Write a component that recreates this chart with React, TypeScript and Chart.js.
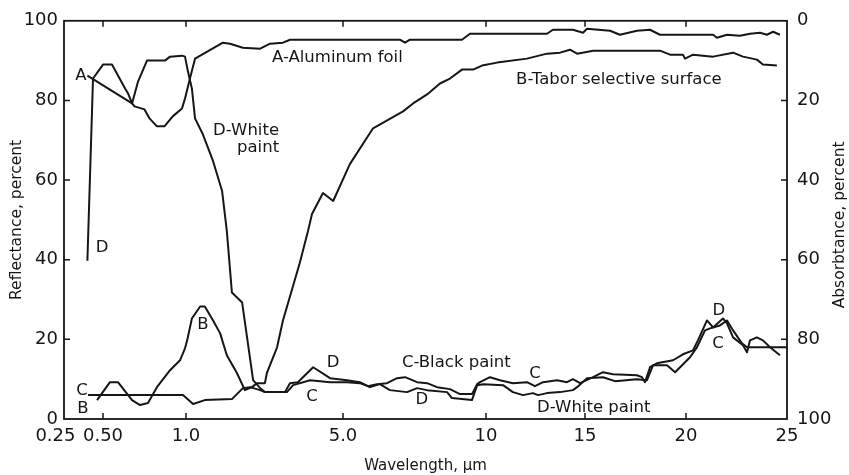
import React, { useEffect, useRef } from "react";
import { Chart, registerables } from "chart.js";

Chart.register(...registerables);

// ---- Axis definition (wavelength axis is piecewise linear between ticks) ----
const TICK_WAVELENGTHS = [0.25, 0.5, 1.0, 5.0, 10, 15, 20, 25];
const TICK_LABELS = ["0.25", "0.50", "1.0", "5.0", "10", "15", "20", "25"];
const SEGMENT_WEIGHTS = [39, 83, 157, 143, 99, 101, 101];
const REFLECTANCE_TICKS = [0, 20, 40, 60, 80, 100];
const ABSORBTANCE_TICKS = [0, 20, 40, 60, 80, 100];

// ---- Series: A - Aluminum foil ----
const A_WAVELENGTH = [0.40, 0.675, 0.69, 0.75, 0.78, 0.825, 0.87, 0.92, 0.976, 0.994, 1.10, 1.23, 1.54, 1.94, 2.12, 2.45, 2.89, 3.14, 3.47, 3.65, 4.24, 6.99, 7.17, 7.34, 9.16, 9.44, 13.08, 13.38, 14.39, 14.9, 15.1, 16.24, 16.73, 17.57, 18.22, 18.71, 21.34, 21.53, 22.03, 22.67, 23.17, 23.66, 24.01, 24.31, 24.65];
const A_REFLECTANCE = [86.25, 79.25, 78.5, 77.75, 75.5, 73.5, 73.5, 76, 78, 80.5, 85.5, 90.5, 92.25, 94.5, 94.25, 93.25, 93, 94.25, 94.5, 95.25, 95.25, 95.25, 94.5, 95.25, 95.25, 96.75, 96.75, 97.75, 97.75, 97, 98, 97.5, 96.5, 97.5, 97.75, 96.5, 96.5, 95.75, 96.5, 96.25, 96.75, 97, 96.5, 97.25, 96.5];

// ---- Series: B - Tabor selective surface ----
const B_WAVELENGTH = [0.462, 0.542, 0.59, 0.675, 0.723, 0.771, 0.825, 0.904, 0.964, 0.994, 1.03, 1.15, 1.36, 1.48, 1.69, 1.87, 2.04, 2.30, 2.50, 2.68, 2.81, 3.01, 3.06, 3.32, 3.47, 3.90, 4.11, 4.21, 4.49, 4.75, 5.24, 6.05, 7.10, 7.45, 7.94, 8.39, 8.74, 9.16, 9.55, 9.86, 10.56, 12.07, 13.08, 13.74, 14.24, 14.6, 15.4, 18.71, 19.21, 19.85, 19.95, 20.35, 21.34, 22.33, 22.82, 23.51, 23.81, 24.5];
const B_REFLECTANCE = [4.75, 9.25, 9.25, 4.75, 3.5, 4, 8, 12.25, 14.75, 17.75, 19.75, 25.25, 28.25, 28.25, 24.75, 21.5, 16, 11.5, 7.25, 8, 9, 9, 11.5, 18, 24.75, 39.25, 47.25, 51.5, 56.75, 54.75, 64, 73, 77.25, 79.25, 81.5, 84.25, 85.5, 87.75, 87.75, 88.75, 89.5, 90.5, 91.75, 92, 92.75, 91.75, 92.5, 92.5, 91.5, 91.5, 90.5, 91.5, 91, 92, 91, 90.25, 89, 88.75];

// ---- Series: C - Black paint ----
const C_WAVELENGTH = [0.404, 0.982, 1.18, 1.48, 2.17, 2.45, 2.63, 2.89, 3.01, 3.57, 3.73, 4.16, 4.67, 5.14, 5.59, 5.87, 6.19, 6.54, 6.89, 7.17, 7.59, 7.94, 8.29, 8.74, 9.09, 9.51, 9.69, 9.79, 10.2, 10.71, 11.36, 12.07, 12.47, 12.88, 13.59, 14.09, 14.39, 14.75, 15.4, 15.89, 16.39, 17.57, 17.82, 17.97, 18.22, 18.56, 19.36, 19.85, 20.35, 20.59, 21.04, 21.34, 21.83, 22.03, 22.33, 22.82, 23.02, 23.17, 23.51, 23.81, 24.16, 24.65];
const C_REFLECTANCE = [6, 6, 3.75, 4.75, 5, 7.75, 8, 7.25, 6.75, 6.75, 8.5, 9.75, 9.25, 9.25, 9, 8.25, 8.75, 9, 10.25, 10.5, 9.25, 9, 8, 7.5, 6.25, 6.25, 8.75, 9.25, 10.5, 9.75, 9, 9.25, 8.25, 9.25, 9.75, 9.25, 10, 9, 10.5, 11.75, 11.25, 11, 10.5, 9.25, 13, 14, 14.75, 16.25, 17.25, 19.75, 24.75, 23, 25.25, 24, 20.5, 18.5, 16.75, 19.75, 20.5, 19.75, 18, 16];

// ---- Series: D - White paint ----
const D_WAVELENGTH = [0.40, 0.436, 0.50, 0.554, 0.633, 0.651, 0.675, 0.711, 0.765, 0.873, 0.904, 0.976, 0.994, 1.05, 1.15, 1.23, 1.43, 1.69, 1.92, 2.04, 2.17, 2.43, 2.71, 2.89, 3.01, 3.52, 3.65, 3.85, 4.24, 4.67, 5.14, 5.59, 5.94, 6.29, 6.64, 7.24, 7.59, 7.94, 8.64, 8.81, 9.51, 9.69, 9.90, 10.86, 11.36, 11.87, 12.37, 12.63, 13.08, 13.74, 14.39, 14.6, 15.1, 15.89, 16.49, 17.57, 18.07, 18.37, 19.06, 19.46, 20.2, 20.54, 20.94, 21.19, 21.68, 22.03, 22.33, 22.77, 23.02, 25];
const D_REFLECTANCE = [39.75, 85.5, 89, 89, 83, 81.75, 79.25, 84.75, 90, 90, 91, 91.25, 91, 87.25, 83, 75.5, 71.5, 64.75, 57.25, 47.25, 31.75, 29.25, 9.75, 7.75, 6.75, 6.75, 9, 9.25, 13, 10.25, 9.75, 9.25, 8, 8.75, 7.25, 6.75, 7.75, 7.25, 6.75, 5.25, 4.75, 8.5, 8.75, 8.5, 6.75, 6, 6.5, 6, 6.5, 6.75, 7.25, 8, 10.25, 10.5, 9.5, 10, 9.75, 13.5, 13.5, 11.75, 15.5, 18, 22.25, 22.75, 23.5, 24.75, 22.25, 19, 18, 18];

// ---- In-plot labels ----
const LABEL_TEXTS = ["A", "A-Aluminum foil", "B-Tabor selective surface", "D-White", "paint", "D", "B", "C", "B", "D", "C", "C-Black paint", "D", "C", "D-White paint", "D", "C"];
const LABEL_WAVELENGTH = [0.359, 3.19, 11.52, 1.69, 2.30, 0.494, 1.43, 0.365, 0.371, 4.745, 4.21, 7.06, 7.76, 12.47, 12.58, 21.63, 21.58];
const LABEL_REFLECTANCE = [86.25, 90.75, 85.25, 72.5, 68.25, 43, 23.75, 7, 2.5, 14.25, 5.5, 14.25, 4.75, 11.25, 2.75, 27.25, 19];
const LABEL_ALIGN = ["center", "left", "left", "left", "left", "center", "center", "center", "center", "center", "center", "left", "center", "center", "left", "center", "center"];

const INK = "#161616";
const FONT = "'DejaVu Sans', 'Liberation Sans', sans-serif";
const AXIS_MAX = SEGMENT_WEIGHTS.reduce((s, v) => s + v, 0);

function toAxis(w: number): number {
  let acc = 0;
  for (let i = 0; i < SEGMENT_WEIGHTS.length; i++) {
    const a = TICK_WAVELENGTHS[i];
    const b = TICK_WAVELENGTHS[i + 1];
    if (w <= b || i === SEGMENT_WEIGHTS.length - 1) {
      return acc + ((w - a) / (b - a)) * SEGMENT_WEIGHTS[i];
    }
    acc += SEGMENT_WEIGHTS[i];
  }
  return acc;
}

const SERIES = [
  { name: "A-Aluminum foil", wl: A_WAVELENGTH, r: A_REFLECTANCE },
  { name: "B-Tabor selective surface", wl: B_WAVELENGTH, r: B_REFLECTANCE },
  { name: "C-Black paint", wl: C_WAVELENGTH, r: C_REFLECTANCE },
  { name: "D-White paint", wl: D_WAVELENGTH, r: D_REFLECTANCE },
];

const framePlugin = {
  id: "frameAndLabels",
  afterDatasetsDraw(chart: any) {
    const { ctx, chartArea, scales } = chart;
    const { left, right, top, bottom } = chartArea;
    const xs = scales.x;
    const ys = scales.y;
    const y2 = scales.y2;
    ctx.save();
    ctx.strokeStyle = INK;
    ctx.lineWidth = 1.8;
    ctx.strokeRect(left, top, right - left, bottom - top);
    ctx.lineWidth = 1.5;
    const tl = 6;
    ctx.beginPath();
    TICK_WAVELENGTHS.slice(1, -1).forEach((w) => {
      const px = xs.getPixelForValue(toAxis(w));
      ctx.moveTo(px, bottom);
      ctx.lineTo(px, bottom - tl);
      ctx.moveTo(px, top);
      ctx.lineTo(px, top + tl);
    });
    REFLECTANCE_TICKS.slice(1, -1).forEach((v) => {
      const py = ys.getPixelForValue(v);
      ctx.moveTo(left, py);
      ctx.lineTo(left + tl, py);
    });
    ABSORBTANCE_TICKS.slice(1, -1).forEach((v) => {
      const py = y2.getPixelForValue(v);
      ctx.moveTo(right, py);
      ctx.lineTo(right - tl, py);
    });
    ctx.stroke();

    // in-plot labels
    ctx.fillStyle = INK;
    ctx.font = `16.5px ${FONT}`;
    ctx.textBaseline = "middle";
    LABEL_TEXTS.forEach((t, i) => {
      ctx.textAlign = LABEL_ALIGN[i] as CanvasTextAlign;
      const px = xs.getPixelForValue(toAxis(LABEL_WAVELENGTH[i]));
      const py = ys.getPixelForValue(LABEL_REFLECTANCE[i]);
      ctx.fillText(t, px, py);
    });

    // right axis title (reads bottom-to-top)
    ctx.save();
    ctx.translate(right + 53, (top + bottom) / 2 + 5);
    ctx.rotate(-Math.PI / 2);
    ctx.textAlign = "center";
    ctx.textBaseline = "middle";
    ctx.font = `15.5px ${FONT}`;
    ctx.fillText("Absorbtance, percent", 0, 0);
    ctx.restore();
    ctx.restore();
  },
};

export default function App() {
  const canvasRef = useRef<HTMLCanvasElement | null>(null);

  useEffect(() => {
    if (!canvasRef.current) return;
    const datasets = SERIES.map((s) => ({
      label: s.name,
      data: s.wl.map((w, i) => ({ x: toAxis(w), y: s.r[i] })),
      borderColor: INK,
      borderWidth: 2,
      pointRadius: 0,
      tension: 0,
      fill: false,
      borderJoinStyle: "round" as const,
      yAxisID: "y",
    }));

    const chart = new Chart(canvasRef.current, {
      type: "line",
      data: { datasets },
      options: {
        animation: false,
        responsive: true,
        maintainAspectRatio: false,
        layout: { padding: { top: 19, left: 0, right: 0, bottom: 0 } },
        plugins: { legend: { display: false }, tooltip: { enabled: false } },
        scales: {
          x: {
            type: "linear",
            position: "bottom",
            min: 0,
            max: AXIS_MAX,
            grid: { display: false, drawTicks: false },
            border: { display: false },
            afterBuildTicks: (s: any) => {
              s.ticks = TICK_WAVELENGTHS.map((w) => ({ value: toAxis(w) }));
            },
            afterFit: (s: any) => {
              s.height = 56;
            },
            ticks: {
              autoSkip: false,
              maxRotation: 0,
              padding: 7,
              color: INK,
              font: { family: FONT, size: 18 },
              // the first label sits left of its tick in the original, so pad it on the right
              callback: (_v: any, i: number) => (i === 0 ? TICK_LABELS[i] + "   " : TICK_LABELS[i]),
            },
            title: {
              display: true,
              text: "Wavelength, µm",
              color: INK,
              font: { family: FONT, size: 15 },
              padding: { top: 0, bottom: 0 },
            },
          },
          y: {
            position: "left",
            min: 0,
            max: 100,
            grid: { display: false, drawTicks: false },
            border: { display: false },
            afterBuildTicks: (s: any) => {
              s.ticks = REFLECTANCE_TICKS.map((v) => ({ value: v }));
            },
            afterFit: (s: any) => {
              s.width = 64;
            },
            ticks: { padding: 6, color: INK, font: { family: FONT, size: 18 } },
            title: {
              display: true,
              text: "Reflectance, percent",
              color: INK,
              font: { family: FONT, size: 15.5 },
              padding: { top: 8, bottom: 0 },
            },
          },
          y2: {
            position: "right",
            min: 0,
            max: 100,
            reverse: true,
            grid: { display: false, drawTicks: false },
            border: { display: false },
            afterBuildTicks: (s: any) => {
              s.ticks = ABSORBTANCE_TICKS.map((v) => ({ value: v }));
            },
            afterFit: (s: any) => {
              s.width = 62;
            },
            ticks: { padding: 10, color: INK, font: { family: FONT, size: 18 } },
            title: { display: false },
          },
        },
      },
      plugins: [framePlugin],
    });
    return () => chart.destroy();
  }, []);

  return (
    <div style={{ position: "fixed", left: 0, top: 0, width: 849, height: 475, background: "#fff" }}>
      <canvas ref={canvasRef} />
    </div>
  );
}
